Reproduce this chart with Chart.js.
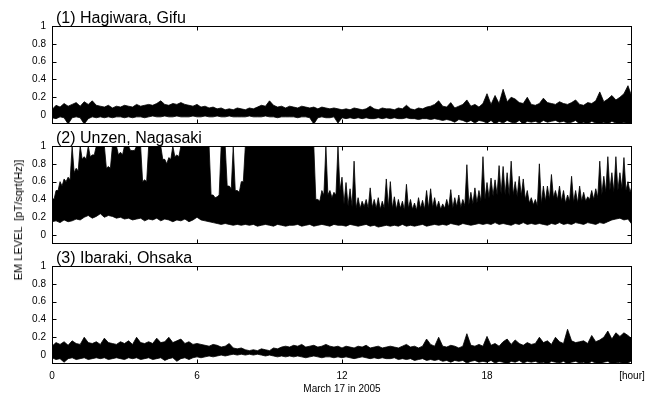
<!DOCTYPE html>
<html>
<head>
<meta charset="utf-8">
<script src="https://cdn.jsdelivr.net/npm/chart.js@4.4.1/dist/chart.umd.min.js"></script>
<style>
  html, body { margin: 0; padding: 0; background: #fff; }
  #wrap { position: relative; width: 657px; height: 396px; overflow: hidden; background: #fff; }
  canvas { position: absolute; left: 0; }
  #ytitle { position: absolute; left: 18px; top: 220px; transform: translate(-50%, -50%) rotate(-90deg);
            font: 11px "Liberation Sans", Arial, sans-serif; white-space: pre; color: #000; }
</style>
</head>
<body>
<div id="wrap">
  <canvas id="c1" style="top:0px"></canvas>
  <canvas id="c2" style="top:120px"></canvas>
  <canvas id="c3" style="top:240px"></canvas>
  <div id="ytitle">EM LEVEL  [pT/sqrt(Hz)]</div>
</div>
<script>
// ---- data (10-minute envelope samples, hours 0..24) ----
const SAMPLE_MINUTES = 10;
const panelTitles = ["(1) Hagiwara, Gifu", "(2) Unzen, Nagasaki", "(3) Ibaraki, Ohsaka"];
const yTickValues = [0, 0.2, 0.4, 0.6, 0.8, 1];
const xTickValues = [0, 6, 12, 18, 24];
const xTickLabels = ["0", "6", "12", "18", "[hour]"];
const xAxisTitle = "March 17 in 2005";

const hagiwaraHi = [
  0.06,0.11,0.09,0.13,0.1,0.12,0.14,0.1,0.15,0.12,0.16,0.11,
  0.1,0.09,0.11,0.08,0.1,0.09,0.11,0.1,0.09,0.12,0.1,0.11,
  0.12,0.11,0.13,0.16,0.12,0.11,0.13,0.12,0.14,0.12,0.11,0.1,
  0.12,0.09,0.1,0.08,0.09,0.07,0.08,0.06,0.07,0.06,0.08,0.07,
  0.06,0.08,0.07,0.09,0.11,0.1,0.16,0.11,0.09,0.1,0.08,0.1,
  0.09,0.08,0.1,0.09,0.08,0.09,0.07,0.09,0.08,0.07,0.08,0.07,
  0.06,0.07,0.06,0.08,0.07,0.06,0.07,0.1,0.07,0.06,0.08,0.07,
  0.07,0.06,0.08,0.07,0.11,0.07,0.06,0.08,0.07,0.09,0.1,0.12,
  0.16,0.1,0.09,0.14,0.08,0.1,0.12,0.17,0.1,0.12,0.09,0.13,
  0.24,0.12,0.22,0.13,0.29,0.15,0.2,0.18,0.14,0.13,0.2,0.12,
  0.11,0.13,0.19,0.14,0.13,0.12,0.15,0.13,0.12,0.14,0.17,0.12,
  0.11,0.14,0.13,0.16,0.26,0.15,0.18,0.22,0.17,0.2,0.24,0.33,
  0.2
];
const hagiwaraLo = [
  -0.03,-0.04,-0.02,-0.03,-0.1,-0.03,-0.02,-0.03,-0.1,-0.04,-0.02,-0.03,
  -0.02,-0.03,-0.02,-0.03,-0.02,-0.02,-0.03,-0.02,-0.03,-0.02,-0.02,-0.03,
  -0.02,-0.01,-0.02,-0.02,-0.01,-0.02,-0.02,-0.01,-0.02,-0.02,-0.02,-0.01,
  -0.02,-0.02,-0.01,-0.02,-0.02,-0.01,-0.02,-0.02,-0.01,-0.02,-0.02,-0.02,
  -0.02,-0.01,-0.02,-0.02,-0.02,-0.01,-0.02,-0.02,-0.03,-0.02,-0.02,-0.02,
  -0.02,-0.03,-0.02,-0.02,-0.03,-0.1,-0.03,-0.02,-0.03,-0.03,-0.02,-0.09,
  -0.03,-0.04,-0.03,-0.04,-0.03,-0.04,-0.03,-0.04,-0.04,-0.03,-0.04,-0.03,
  -0.04,-0.03,-0.04,-0.04,-0.03,-0.04,-0.04,-0.05,-0.04,-0.04,-0.05,-0.04,
  -0.05,-0.06,-0.05,-0.06,-0.08,-0.05,-0.06,-0.08,-0.06,-0.09,-0.06,-0.07,
  -0.09,-0.06,-0.1,-0.07,-0.09,-0.06,-0.08,-0.09,-0.06,-0.1,-0.07,-0.08,
  -0.07,-0.09,-0.06,-0.08,-0.07,-0.06,-0.08,-0.07,-0.09,-0.08,-0.06,-0.1,
  -0.08,-0.1,-0.07,-0.09,-0.1,-0.08,-0.1,-0.07,-0.09,-0.1,-0.08,-0.1,
  -0.09
];

// Unzen: spike tops at each 10-min sample, solid-body top between samples, lower edge
const unzenHi = [
  0.42,0.5,0.6,0.63,0.65,1.0,0.75,1.0,0.88,1.0,0.9,1.0,
  1.0,1.0,0.77,1.0,1.0,0.93,1.0,1.0,0.95,1.0,1.0,0.62,
  1.0,1.0,1.0,1.0,0.85,0.87,1.0,0.9,1.0,1.0,1.0,1.0,
  1.0,1.0,1.0,1.0,0.45,0.43,1.0,1.0,0.55,1.0,0.5,0.6,
  1.0,1.0,1.0,1.0,1.0,1.0,1.0,1.0,1.0,1.0,1.0,1.0,
  1.0,1.0,1.0,1.0,1.0,1.0,0.4,0.5,1.0,0.5,0.48,1.0,
  0.65,0.59,0.52,0.83,0.42,0.38,0.4,0.53,0.4,0.42,0.38,0.63,
  0.6,0.43,0.4,0.38,0.57,0.4,0.36,0.42,0.39,0.5,0.52,0.42,
  0.38,0.35,0.4,0.51,0.42,0.45,0.4,0.79,0.48,0.53,0.5,0.88,
  0.59,0.64,0.62,0.78,0.77,0.7,0.83,0.6,0.66,0.63,0.5,0.42,
  0.4,0.8,0.55,0.55,0.68,0.5,0.55,0.5,0.45,0.66,0.5,0.55,
  0.48,0.43,0.5,0.52,0.83,0.66,0.88,0.7,0.88,0.7,0.87,0.6,
  0.55
];
const unzenBody = [
  0.4,0.5,0.55,0.6,0.62,0.7,0.72,0.85,0.85,0.88,0.9,1.0,
  1.0,0.75,0.75,1.0,0.9,0.9,1.0,0.95,0.95,1.0,0.6,0.6,
  1.0,1.0,1.0,0.85,0.8,0.85,0.88,0.88,1.0,1.0,1.0,1.0,
  1.0,1.0,1.0,0.45,0.42,0.45,1.0,0.55,0.52,0.5,0.48,0.6,
  1.0,1.0,1.0,1.0,1.0,1.0,1.0,1.0,1.0,1.0,1.0,1.0,
  1.0,1.0,1.0,1.0,1.0,0.4,0.38,0.45,0.45,0.42,0.45,0.5,
  0.35,0.33,0.32,0.3,0.3,0.32,0.3,0.31,0.3,0.29,0.3,0.31,
  0.3,0.29,0.3,0.28,0.3,0.29,0.28,0.3,0.29,0.3,0.31,0.3,
  0.29,0.3,0.31,0.3,0.32,0.31,0.33,0.34,0.35,0.36,0.38,0.4,
  0.42,0.44,0.45,0.46,0.45,0.44,0.45,0.43,0.44,0.4,0.36,0.34,
  0.33,0.35,0.38,0.4,0.42,0.4,0.38,0.36,0.38,0.37,0.36,0.38,
  0.38,0.4,0.4,0.42,0.45,0.48,0.5,0.48,0.5,0.52,0.5,0.48
];
const unzenLo = [
  0.15,0.16,0.14,0.17,0.15,0.16,0.18,0.17,0.2,0.22,0.19,0.21,
  0.24,0.2,0.22,0.21,0.19,0.2,0.18,0.19,0.17,0.18,0.19,0.16,
  0.18,0.17,0.19,0.16,0.18,0.17,0.15,0.17,0.16,0.18,0.15,0.17,
  0.2,0.17,0.16,0.15,0.14,0.13,0.12,0.13,0.12,0.11,0.12,0.11,
  0.12,0.11,0.12,0.1,0.11,0.12,0.11,0.1,0.12,0.11,0.1,0.11,
  0.11,0.12,0.1,0.11,0.12,0.1,0.11,0.12,0.11,0.1,0.12,0.11,
  0.11,0.1,0.12,0.11,0.1,0.11,0.12,0.1,0.11,0.09,0.1,0.11,
  0.1,0.11,0.1,0.12,0.1,0.11,0.1,0.11,0.12,0.1,0.11,0.12,
  0.11,0.12,0.11,0.13,0.12,0.11,0.13,0.12,0.11,0.12,0.13,0.12,
  0.13,0.12,0.14,0.12,0.13,0.12,0.11,0.13,0.12,0.14,0.12,0.13,
  0.12,0.13,0.12,0.11,0.13,0.12,0.14,0.12,0.13,0.12,0.14,0.13,
  0.12,0.14,0.13,0.12,0.14,0.13,0.15,0.17,0.18,0.19,0.17,0.18,
  0.12
];

const ibarakiHi = [
  0.1,0.14,0.12,0.15,0.11,0.16,0.13,0.12,0.2,0.14,0.13,0.15,
  0.12,0.19,0.14,0.13,0.12,0.15,0.13,0.16,0.12,0.2,0.14,0.13,
  0.15,0.13,0.19,0.14,0.15,0.2,0.14,0.16,0.18,0.13,0.15,0.12,
  0.13,0.12,0.11,0.1,0.12,0.11,0.09,0.1,0.13,0.08,0.07,0.08,
  0.06,0.05,0.06,0.05,0.07,0.06,0.05,0.08,0.07,0.09,0.1,0.09,
  0.11,0.1,0.12,0.09,0.1,0.11,0.09,0.1,0.12,0.1,0.09,0.1,
  0.08,0.1,0.09,0.08,0.1,0.09,0.11,0.08,0.09,0.1,0.08,0.09,
  0.1,0.09,0.08,0.1,0.12,0.09,0.1,0.08,0.1,0.18,0.12,0.1,
  0.2,0.1,0.09,0.11,0.1,0.08,0.1,0.24,0.11,0.1,0.12,0.1,
  0.21,0.11,0.13,0.1,0.15,0.18,0.12,0.17,0.13,0.11,0.14,0.12,
  0.13,0.2,0.14,0.16,0.12,0.2,0.15,0.13,0.29,0.16,0.14,0.15,
  0.16,0.13,0.22,0.15,0.17,0.2,0.27,0.18,0.25,0.21,0.25,0.22,
  0.18
];
const ibarakiLo = [
  -0.03,-0.05,-0.04,-0.08,-0.04,-0.03,-0.05,-0.04,-0.03,-0.05,-0.04,-0.03,
  -0.04,-0.03,-0.05,-0.04,-0.03,-0.04,-0.05,-0.03,-0.04,-0.03,-0.05,-0.04,
  -0.03,-0.05,-0.04,-0.03,-0.06,-0.04,-0.03,-0.07,-0.04,-0.03,-0.05,-0.03,
  -0.02,-0.03,-0.02,-0.01,-0.02,-0.01,0.0,-0.01,0.0,0.01,0.0,0.01,
  0.0,0.01,0.0,0.01,0.0,-0.01,0.0,-0.01,-0.02,-0.01,-0.02,-0.01,
  -0.02,-0.01,-0.02,-0.03,-0.02,-0.01,-0.02,-0.03,-0.02,-0.02,-0.03,-0.02,
  -0.03,-0.02,-0.03,-0.04,-0.03,-0.02,-0.03,-0.04,-0.03,-0.04,-0.03,-0.04,
  -0.04,-0.03,-0.05,-0.04,-0.05,-0.04,-0.06,-0.05,-0.04,-0.06,-0.05,-0.06,
  -0.05,-0.07,-0.06,-0.08,-0.06,-0.07,-0.06,-0.09,-0.07,-0.06,-0.08,-0.07,
  -0.08,-0.06,-0.09,-0.07,-0.08,-0.1,-0.07,-0.08,-0.06,-0.09,-0.07,-0.08,
  -0.07,-0.09,-0.08,-0.1,-0.07,-0.08,-0.09,-0.07,-0.1,-0.08,-0.07,-0.09,
  -0.08,-0.1,-0.07,-0.09,-0.1,-0.08,-0.07,-0.1,-0.09,-0.08,-0.1,-0.09,
  -0.06
];

// ---- rendering ----
const FONT = '"Liberation Sans", Arial, Helvetica, sans-serif';
const STEP_H = SAMPLE_MINUTES / 60;
const toPoints = arr => arr.map((v, i) => ({ x: i * STEP_H, y: v }));
// spike tops at sample times, body tops (if given) half-way between samples
function topPoints(hi, body) {
  if (!body) return toPoints(hi);
  const pts = [];
  hi.forEach((v, i) => {
    pts.push({ x: i * STEP_H, y: v });
    if (i < body.length) pts.push({ x: (i + 0.5) * STEP_H, y: body[i] });
  });
  return pts;
}

const framePlugin = {
  id: 'frame',
  afterDatasetsDraw(chart, args, opts) {
    const { ctx, chartArea: a, scales } = chart;
    const L = Math.round(a.left) + 0.5, R = Math.round(a.right) - 0.5;
    const T = Math.round(a.top) + 0.5, B = Math.round(a.bottom) - 0.5;
    ctx.save();
    ctx.strokeStyle = '#000';
    ctx.lineWidth = 1;
    ctx.beginPath();
    yTickValues.forEach(v => {
      const y = Math.round(scales.y.getPixelForValue(v)) + 0.5;
      ctx.moveTo(L, y); ctx.lineTo(L + 4, y);
      ctx.moveTo(R - 4, y); ctx.lineTo(R, y);
    });
    xTickValues.slice(1, -1).forEach(v => {
      const x = Math.round(scales.x.getPixelForValue(v)) + 0.5;
      ctx.moveTo(x, T); ctx.lineTo(x, T + 4);
      ctx.moveTo(x, B - 4); ctx.lineTo(x, B);
    });
    ctx.stroke();
    ctx.strokeRect(L, T, R - L, B - T);
    ctx.fillStyle = '#000';
    ctx.font = '16px ' + FONT;
    ctx.textBaseline = 'alphabetic';
    ctx.textAlign = 'left';
    ctx.fillText(opts.text, a.left + 4, a.top - 3);
    ctx.restore();
  }
};

function makePanel(canvasId, height, title, hi, lo, body, showX) {
  const cv = document.getElementById(canvasId);
  cv.width = 657; cv.height = height;
  cv.style.width = '657px'; cv.style.height = height + 'px';
  const xScale = {
    type: 'linear', min: 0, max: 24,
    display: showX,
    grid: { display: false, drawTicks: false },
    border: { display: false },
    afterBuildTicks: s => { s.ticks = xTickValues.map(v => ({ value: v })); },
    ticks: {
      padding: 6, color: '#000', font: { family: FONT, size: 10 }, maxRotation: 0, autoSkip: false,
      callback: v => xTickLabels[xTickValues.indexOf(v)]
    },
    title: { display: true, text: xAxisTitle, color: '#000', font: { family: FONT, size: 10 }, padding: { top: 2, bottom: 0 } }
  };
  if (showX) xScale.afterFit = s => { s.height = 31; s.paddingLeft = 0; s.paddingRight = 0; };
  return new Chart(cv, {
    type: 'line',
    data: {
      datasets: [
        { data: toPoints(lo), borderColor: '#000', borderWidth: 0.8, pointRadius: 0, fill: false, tension: 0 },
        { data: topPoints(hi, body), borderColor: '#000', borderWidth: 0.8, pointRadius: 0, fill: '-1', backgroundColor: '#000', tension: 0 }
      ]
    },
    options: {
      responsive: false,
      animation: false,
      events: [],
      layout: { padding: { left: 0, right: 25, top: 26, bottom: showX ? 1 : 0 } },
      plugins: { legend: { display: false }, tooltip: { enabled: false }, frame: { text: title } },
      scales: {
        x: xScale,
        y: {
          type: 'linear', min: -0.1, max: 1,
          grid: { display: false, drawTicks: false },
          border: { display: false },
          afterBuildTicks: s => { s.ticks = yTickValues.map(v => ({ value: v })); },
          afterFit: s => { s.width = 52; s.paddingTop = 0; s.paddingBottom = 0; },
          ticks: { padding: 6, color: '#000', autoSkip: false, font: { family: FONT, size: 10 }, callback: v => String(v) }
        }
      }
    },
    plugins: [framePlugin]
  });
}

makePanel('c1', 124, panelTitles[0], hagiwaraHi, hagiwaraLo, null, false);
makePanel('c2', 124, panelTitles[1], unzenHi, unzenLo, unzenBody, false);
makePanel('c3', 156, panelTitles[2], ibarakiHi, ibarakiLo, null, true);
</script>
</body>
</html>
